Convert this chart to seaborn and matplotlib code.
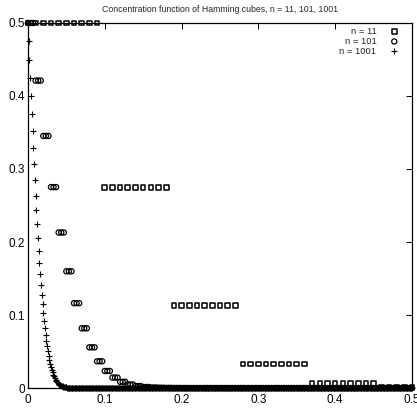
import numpy as np
import pandas as pd
import matplotlib
matplotlib.use("Agg")
import matplotlib.pyplot as plt
import seaborn as sns

sns.set_style("white")
plt.rcParams['font.family'] = ['Liberation Sans Narrow', 'Liberation Sans', 'DejaVu Sans']

# ---- data ----
# n = 11, sampled every 0.01 on [0, 0.5]
x11 = [round(0.01 * i, 2) for i in range(51)]
y11 = ([0.5] * 10 + [0.2744] * 9 + [0.1133] * 9 + [0.0327] * 9
       + [0.0059] * 9 + [0.0005] * 5)

# n = 101: one level per radius step, three samples per level
levels101 = [0.5, 0.4211, 0.3453, 0.2752, 0.2130, 0.1599, 0.1162, 0.0818,
             0.0557, 0.0366, 0.0233, 0.0143, 0.0085, 0.0048, 0.0027, 0.0014,
             0.0007, 0.0004, 0.0002, 0.0001] + [0.0] * 31
x101 = [i / 300 for i in range(151)]
y101 = list(np.repeat(levels101, 3)[:151])

# n = 1001, sampled every 0.001
levels1001 = [0.5, 0.4748, 0.4497, 0.4248, 0.4002, 0.3760, 0.3522, 0.3291,
              0.3065, 0.2847, 0.2637, 0.2434, 0.2240, 0.2056, 0.1881, 0.1715,
              0.1559, 0.1413, 0.1276, 0.1149, 0.1031, 0.0922, 0.0822, 0.0730,
              0.0646, 0.0570, 0.0501, 0.0439, 0.0384, 0.0334, 0.0290, 0.0250,
              0.0215, 0.0185, 0.0158, 0.0135, 0.0114, 0.0097, 0.0082, 0.0068,
              0.0057, 0.0048, 0.0040, 0.0033, 0.0027, 0.0022, 0.0018, 0.0015,
              0.0012, 0.0010, 0.0008, 0.0006, 0.0005, 0.0004, 0.0003, 0.0003,
              0.0002, 0.0002, 0.0001, 0.0001, 0.0001]
x1001 = [i / 1000 for i in range(501)]
y1001 = levels1001 + [0.0] * (501 - len(levels1001))

labels = ["n = 11", "n = 101", "n = 1001"]
ticks = [0, 0.1, 0.2, 0.3, 0.4, 0.5]
tick_labels = ["0", "0.1", "0.2", "0.3", "0.4", "0.5"]
title = "Concentration function of Hamming cubes, n = 11, 101, 1001"

# ---- figure ----
fig = plt.figure(figsize=(4.17, 4.09), dpi=100)
ax = fig.add_axes([0.067, 0.0513, 0.921, 0.8925])

df11 = pd.DataFrame({"x": x11, "y": y11})
df101 = pd.DataFrame({"x": x101, "y": y101})
df1001 = pd.DataFrame({"x": x1001, "y": y1001})

sns.scatterplot(data=df11, x="x", y="y", marker="s", s=11, color="k",
                linewidth=1.1, label=labels[0], ax=ax, clip_on=False, zorder=3)
c11 = ax.collections[-1]
c11.set_facecolor("none"); c11.set_edgecolor("k")

sns.scatterplot(data=df101, x="x", y="y", marker="o", s=14, color="k",
                linewidth=0.9, label=labels[1], ax=ax, clip_on=False, zorder=3)
c101 = ax.collections[-1]
c101.set_facecolor("none"); c101.set_edgecolor("k")

sns.scatterplot(data=df1001, x="x", y="y", marker="+", s=16, color="k",
                linewidth=0.8, label=labels[2], ax=ax, clip_on=False, zorder=3)

ax.set_xlim(0, 0.5)
ax.set_ylim(0, 0.5)
ax.set_xticks(ticks)
ax.set_xticklabels(tick_labels)
ax.set_yticks(ticks)
ax.set_yticklabels(tick_labels)
ax.set_xlabel("")
ax.set_ylabel("")
ax.tick_params(direction="in", length=4, width=0.7, top=True, right=True,
               labelsize=8.5, colors="k")
ax.tick_params(axis="x", pad=4)
ax.tick_params(axis="y", pad=2)
for sp in ax.spines.values():
    sp.set_color("k")
    sp.set_linewidth(0.9)
    sp.set_visible(True)

ax.set_title(title, fontsize=6.3, pad=8)

leg = ax.legend(loc="upper right", bbox_to_anchor=(399 / 417, 1 - 27 / 409),
                bbox_transform=fig.transFigure, frameon=False, fontsize=6.8,
                markerfirst=False, handlelength=1.0, handletextpad=1.4,
                labelspacing=0.1, borderpad=0, borderaxespad=0,
                scatterpoints=1)

fig.savefig("out.png", dpi=100)
